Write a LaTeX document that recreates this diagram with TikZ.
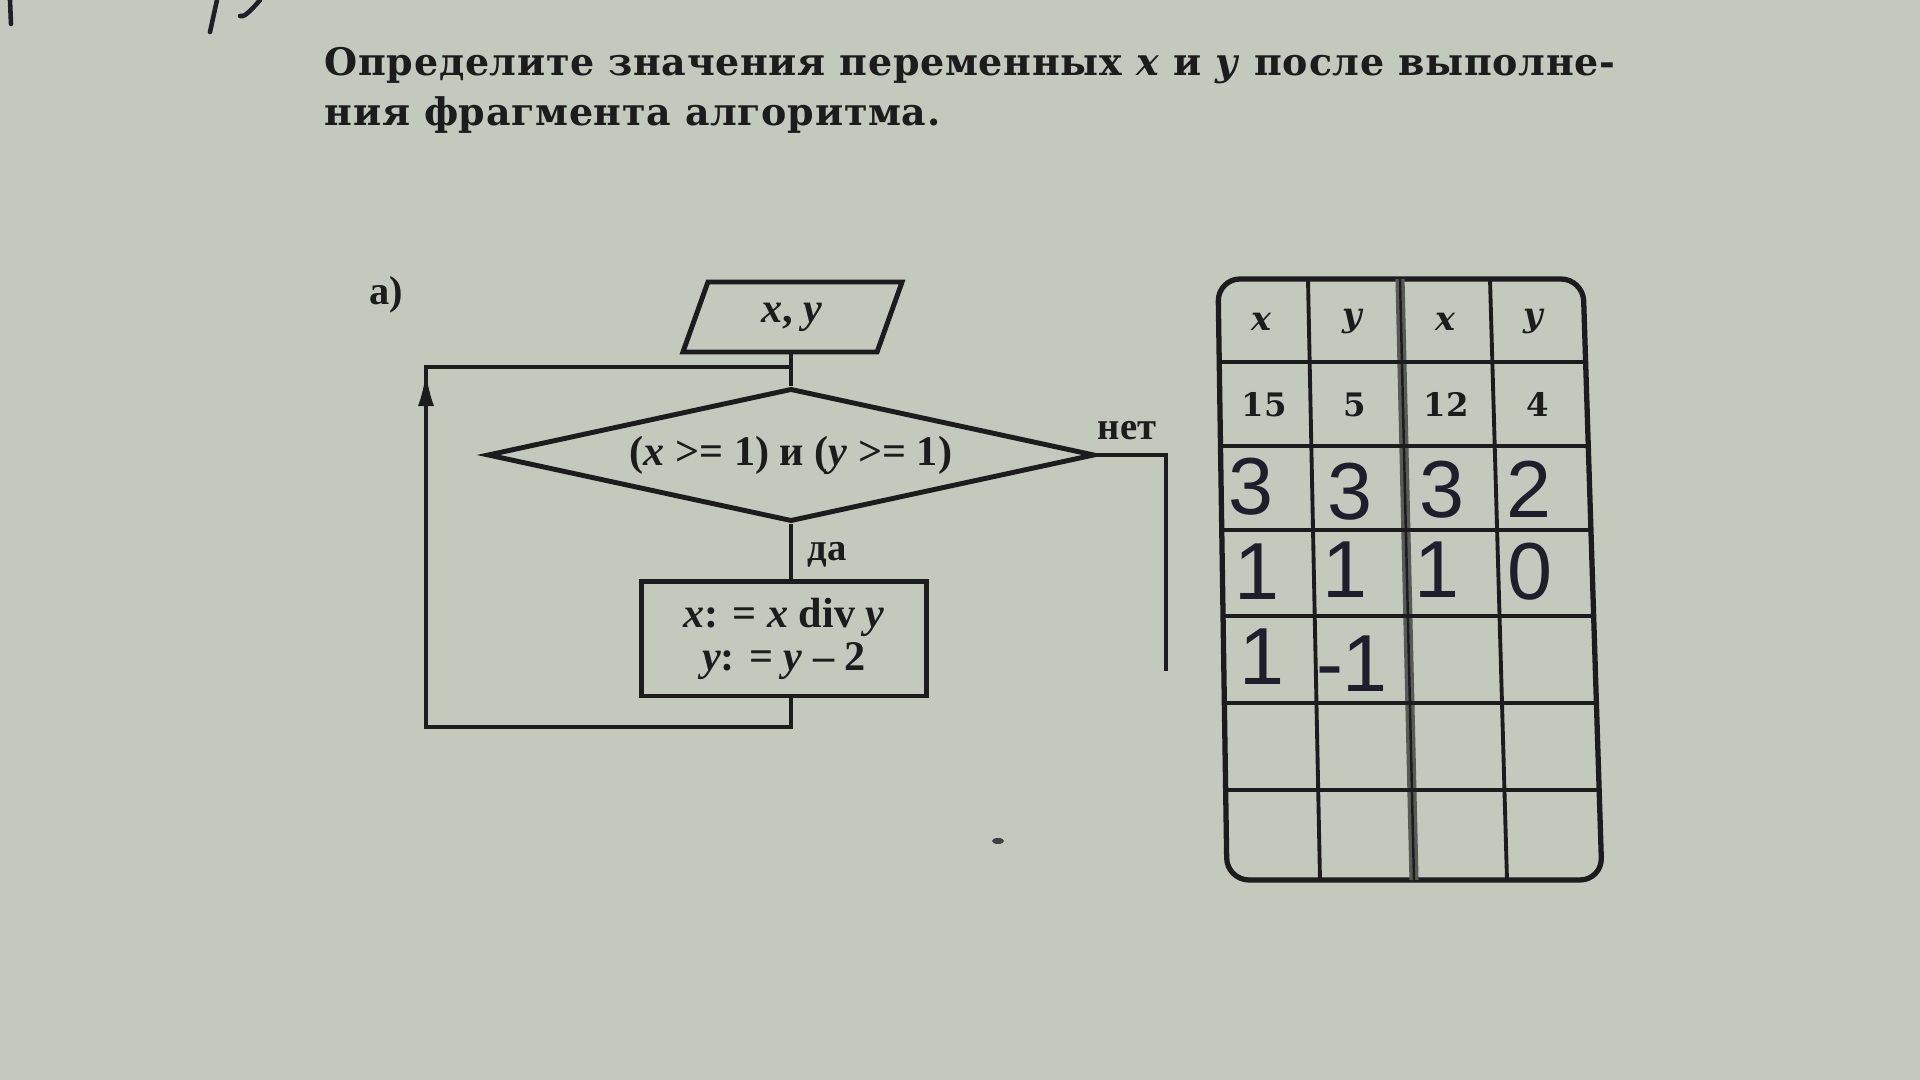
\documentclass[tikz,border=0pt]{standalone}
\usepackage{fontspec}
\setmainfont{Liberation Serif}
\newfontfamily\titlefont{DejaVu Serif}
\newfontfamily\titlefontsp[LetterSpace=1.8]{DejaVu Serif}
\newfontfamily\handfont{Liberation Sans}
\usetikzlibrary{shapes.geometric,arrows.meta,calc}
\definecolor{paper}{RGB}{196,201,189}
\definecolor{ink}{RGB}{28,28,30}
\definecolor{pen}{RGB}{30,30,45}
\tikzset{
  flow/.style={draw=ink, line width=1.4pt, text=ink, font=\bfseries\fontsize{12}{13}\selectfont},
  conn/.style={draw=ink, line width=1.1pt},
  lbl/.style={text=ink, font=\bfseries\fontsize{11}{13}\selectfont, inner sep=0pt},
  titletxt/.style={text=ink, font=\titlefontsp\bfseries\fontsize{10.8}{13}\selectfont, inner sep=0pt, anchor=base west},
  grid/.style={draw=ink, line width=1.1pt},
  hdr/.style={text=ink, font=\titlefont\bfseries\itshape\fontsize{9.5}{11}\selectfont, inner sep=0pt},
  num/.style={text=ink, font=\titlefont\bfseries\fontsize{9.2}{11}\selectfont, inner sep=0pt},
  hand/.style={text=pen, font=\handfont\fontsize{23}{25}\selectfont, inner sep=0pt},
  stray/.style={draw=pen, line width=1.3pt, line cap=round}
}
\begin{document}
\begin{tikzpicture}[x=0.01cm,y=-0.01cm]
\fill[paper] (0,0) rectangle (1920,1080);
\useasboundingbox (0,0) rectangle (1920,1080);

% stray marks
\draw[stray] (10,0) -- (11,24);
\draw[stray] (217,0) -- (210,32);
\draw[stray] (260,0) .. controls (250,12) and (243,18) .. (240,16);
\fill[pen!80!paper] (998,841) ellipse (6 and 3);

% title
\node[titletxt] (t1) at (324,76) {Определите значения переменных \textit{x} и \textit{y} после выполне-};
\node[titletxt] (t2) at (324,126) {ния фрагмента алгоритма.};

% label
\node[lbl, font=\bfseries\fontsize{11.5}{13}\selectfont] (la) at (386,295) {а)};

% flowchart
\node[flow, draw=none, rectangle, minimum width=1.94cm, minimum height=0.70cm, inner sep=1pt, outer sep=0pt]
      (inp) at (792,317) {\textit{x}, \textit{y}};
\draw[flow] ($(inp.south west)+(-12,0)$) -- ($(inp.north west)+(13,0)$)
  -- ($(inp.north east)+(13,0)$) -- ($(inp.south east)+(-12,0)$) -- cycle;
\node[flow, diamond, aspect=4.5, minimum width=6.07cm, minimum height=1.33cm, inner sep=1pt]
      (dia) at (791,455) {(\textit{x} >= 1) и (\textit{y} >= 1)};
\node[flow, rectangle, minimum width=2.84cm, minimum height=1.14cm, align=center, inner sep=1pt]
      (box) at (784,639) {\textit{x}: = \textit{x} div \textit{y}\\[-1pt]\textit{y}: = \textit{y} -- 2};

\coordinate (j) at (791,367);
\coordinate (lt) at (426,367);
\coordinate (lb) at (426,727);
\coordinate (nc) at (1166,455);
\coordinate (ne) at (1166,671);

\draw[conn] (inp.south -| dia.north) -- (dia.north);
\draw[conn] (dia.south) -- (box.north -| dia.south);
\draw[conn] (box.south -| dia.south) |- (lb) -- (lt) -- (j);
\draw[conn, -{Latex[length=0.34cm,width=0.16cm]}] (lb) -- (426,372);
\draw[conn] (dia.east) -- (nc) -- (ne);

\node[lbl] (net) at (1127,431) {нет};
\node[lbl] (da) at (827,555) {да};

% table
\draw[draw=ink, line width=1.5pt, rounded corners=0.22cm]
  (1218,279) -- (1583,279) -- (1602,880) -- (1227,880) -- cycle;
\draw[grid] (1308,279) -- (1320,880);
\draw[grid] (1490,279) -- (1507,880);
\draw[draw=black!55!paper, line width=2.6pt] (1400,279) -- (1414,880);
\draw[draw=ink, line width=0.7pt] (1400,279) -- (1414,880);
\draw[grid] (1219.2,362) -- (1585.6,362);
\draw[grid] (1220.5,446) -- (1588.3,446);
\draw[grid] (1221.8,530) -- (1590.9,530);
\draw[grid] (1223.0,616) -- (1593.7,616);
\draw[grid] (1224.3,703) -- (1596.4,703);
\draw[grid] (1225.7,790) -- (1599.2,790);

\node[hdr] (h1) at (1261,322) {x};
\node[hdr] (h2) at (1352,322) {y};
\node[hdr] (h3) at (1445,322) {x};
\node[hdr] (h4) at (1533,322) {y};

\node[num] (n1) at (1264,405) {15};
\node[num] (n2) at (1355,405) {5};
\node[num] (n3) at (1446,405) {12};
\node[num] (n4) at (1538,405) {4};

\node[hand] (a1) at (1251,487) {3};
\node[hand] (a2) at (1350,492) {3};
\node[hand] (a3) at (1442,490) {3};
\node[hand] (a4) at (1529,489) {2};
\node[hand] (b1) at (1257,572) {1};
\node[hand] (b2) at (1345,570) {1};
\node[hand] (b3) at (1437,570) {1};
\node[hand] (b4) at (1530,572) {0};
\node[hand] (c1) at (1262,657) {1};
\node[hand] (c2) at (1352,664) {-1};
\end{tikzpicture}
\end{document}
